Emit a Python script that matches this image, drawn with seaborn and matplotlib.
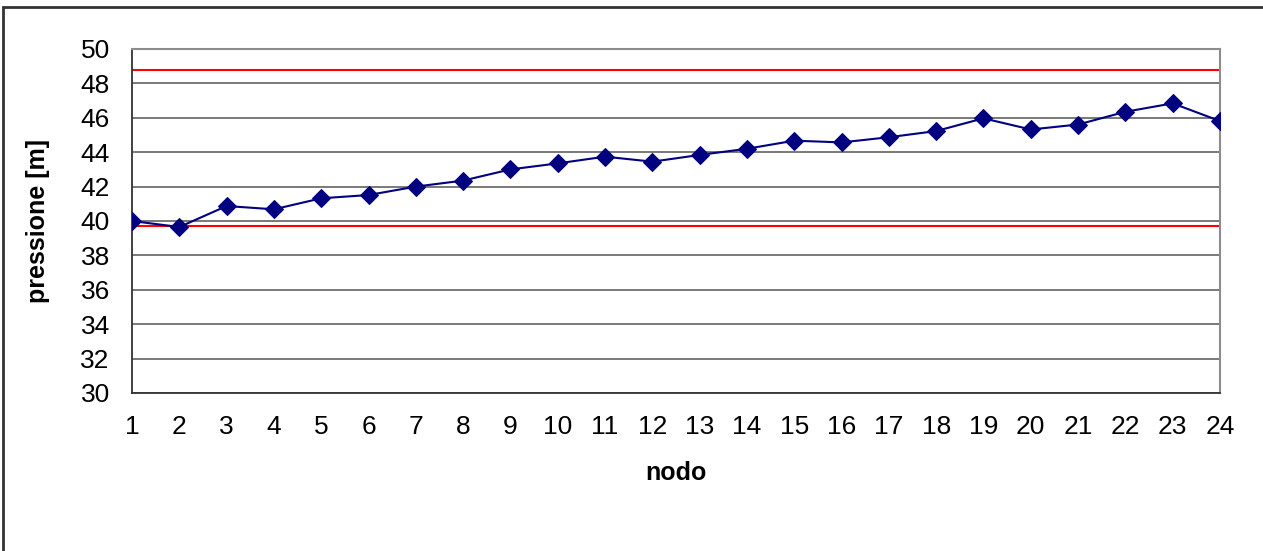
import matplotlib
matplotlib.use("Agg")
import matplotlib.pyplot as plt
import seaborn as sns
import pandas as pd
from matplotlib.patches import Rectangle

# data
nodo = list(range(1, 25))
pressione = [40.0, 39.65, 40.87, 40.68, 41.32, 41.51, 42.0, 42.35, 43.0, 43.35,
             43.74, 43.45, 43.84, 44.2, 44.67, 44.57, 44.87, 45.23, 45.97, 45.32,
             45.61, 46.35, 46.84, 45.81]
p_max = 48.78
p_min = 39.71
y_ticks = list(range(30, 51, 2))

df = pd.DataFrame({"nodo": nodo, "pressione": pressione})

sns.set_style("white")
plt.rcParams["font.family"] = ["Liberation Sans", "DejaVu Sans"]

fig = plt.figure(figsize=(12.63, 5.51), dpi=100)
ax = fig.add_axes([132 / 1263, 1 - 393 / 551, (1220 - 132) / 1263, (393 - 49) / 551])

# horizontal grid
for t in y_ticks:
    ax.axhline(t, color="#6e6e6e", lw=1.3, zorder=1)

# limit lines
ax.axhline(p_max, color="#ff0000", lw=1.5, zorder=2)
ax.axhline(p_min, color="#ff0000", lw=1.5, zorder=2)

sns.lineplot(data=df, x="nodo", y="pressione", ax=ax, color="#000080", lw=1.5,
             marker="D", markersize=9, markeredgecolor="#000080", zorder=3)

ax.set_xlim(1, 24)
ax.set_ylim(30, 50)
ax.set_xticks(nodo)
ax.set_yticks(y_ticks)
ax.tick_params(axis="both", labelsize=19, length=6, width=1, color="#333333",
               labelcolor="black", direction="out")
ax.tick_params(axis="y", pad=10)
ax.tick_params(axis="x", pad=10)

for side in ["left", "bottom"]:
    ax.spines[side].set_color("#333333")
    ax.spines[side].set_linewidth(1.3)
for side in ["right", "top"]:
    ax.spines[side].set_color("#8c8c8c")
    ax.spines[side].set_linewidth(1.5)
    ax.spines[side].set_visible(True)

ax.set_xlabel("nodo", fontsize=18, fontweight="bold", labelpad=16, color="black")
ax.set_ylabel("pressione [m]", fontsize=18, fontweight="bold", labelpad=22, color="black")

# outer chart border
fig.patches.append(Rectangle((3 / 1263, -0.05), 1.2, 1 - 7 / 551 + 0.05,
                             transform=fig.transFigure, fill=False,
                             edgecolor="#333333", lw=2, zorder=0))

fig.savefig("out.png", dpi=100)
